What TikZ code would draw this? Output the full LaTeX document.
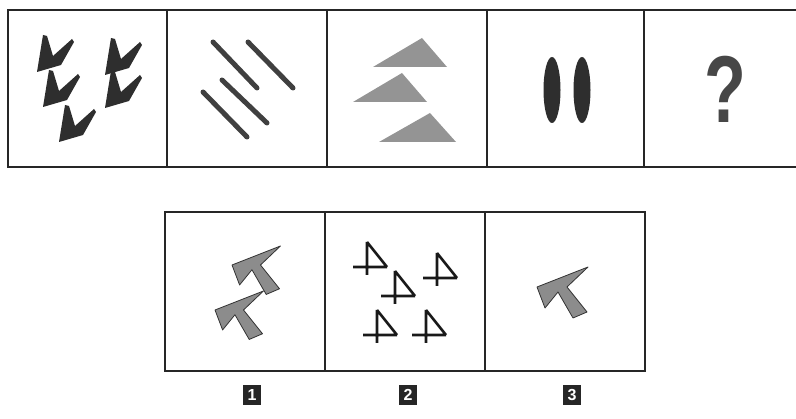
\documentclass[tikz,border=0pt]{standalone}
\usepackage{fontspec}
\setsansfont{Liberation Sans}

\tikzset{
  chev/.pic={\fill[black!82,line join=round] (0,0)--(6,-37)--(10,-36)--(16,-16)--(35,-33)--(37,-30)--(24,-7)--cycle;},
  cursor/.pic={\filldraw[fill=black!45,draw=black!80,line width=.8pt,line join=round]
     (51,-20)--(0,0)--(8,21)--(21,5)--(36,31)--(50,25)--(30,0)--cycle;},
  tricross/.pic={\draw[line width=2.6pt,black!90] (0,-25)--(0,8) (-14,0)--(20,0) (0,-25)--(20,0);}
}

\begin{document}
\begin{tikzpicture}[x=1pt,y=-1pt,
  frame/.style={line width=1.6pt,black!85},
  bar/.style={line width=5pt,black!75,line cap=round},
  tag/.style={fill=black!85,text=white,font=\sffamily\bfseries\fontsize{16}{16}\selectfont,
              minimum width=18pt,minimum height=20pt,inner sep=0pt}]
\useasboundingbox (0,0) rectangle (796,419);

% top row
\draw[frame] (796,10) -- (8,10) -- (8,167) -- (796,167);
\foreach \x in {167,327,487,644} \draw[frame] (\x,10) -- (\x,167);
\foreach \p in {(37,72),(43,107),(59,142),(105,75),(105,108)} \pic at \p {chev};
\draw[bar] (213,42) -- (257,88) (248,42) -- (293,88) (222,80) -- (267,123) (203,92) -- (247,137);
\fill[black!42] (373,67) -- (422,38) -- (447,67) -- cycle;
\fill[black!42] (353,102) -- (402,73) -- (427,102) -- cycle;
\fill[black!42] (379,142) -- (430,113) -- (456,142) -- cycle;
\fill[black!82] (552,90) ellipse [x radius=8.5pt,y radius=33pt];
\fill[black!82] (582,90) ellipse [x radius=8.5pt,y radius=33pt];
\node[font=\sffamily\bfseries\fontsize{95}{95}\selectfont,text=black!72,xscale=.72] (q) at (725,89) {?};

% answers
\draw[frame] (165,212) rectangle (645,371);
\foreach \x in {325,485} \draw[frame] (\x,212) -- (\x,371);
\pic[scale=.95] at (232,265) {cursor};
\pic[scale=.95] at (215,310) {cursor};
\pic at (537,287) {cursor};
\foreach \p in {(367,267),(395,296),(437,278),(377,335),(426,335)} \pic at \p {tricross};
\node[tag] (t1) at (252,395) {1};
\node[tag] (t2) at (408,395) {2};
\node[tag] (t3) at (572,395) {3};
\end{tikzpicture}
\end{document}
